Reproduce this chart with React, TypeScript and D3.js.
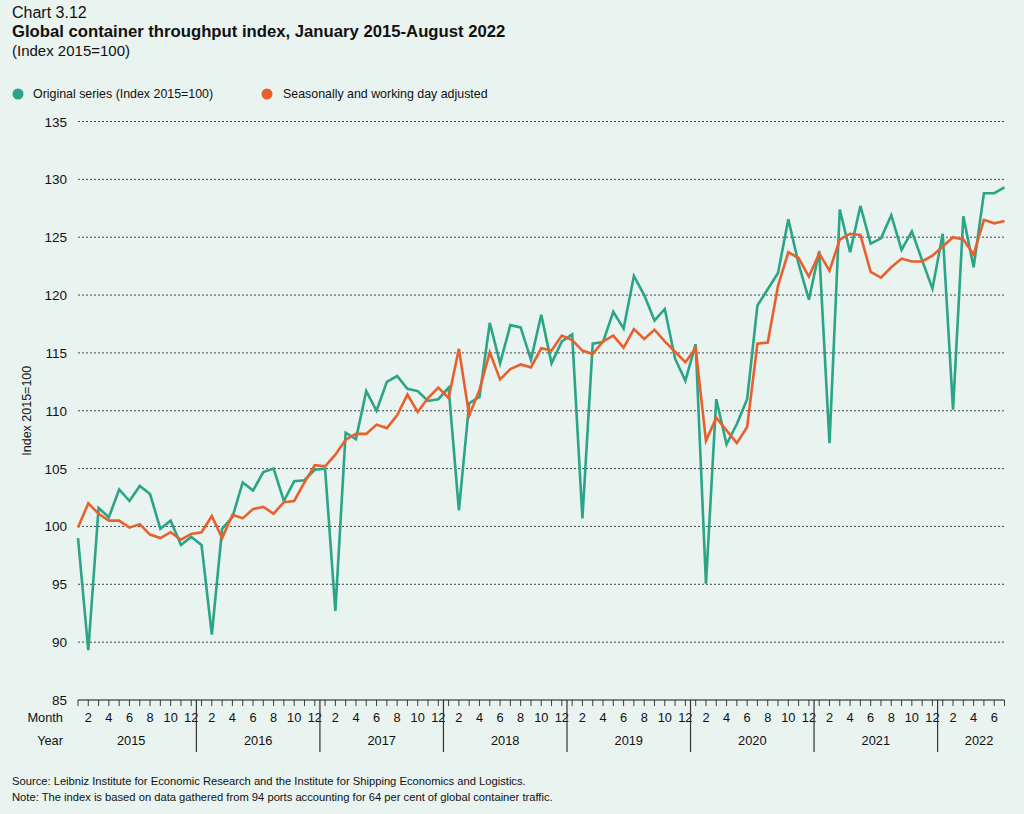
import React from "react";
import * as d3 from "d3";

const years = [2015, 2016, 2017, 2018, 2019, 2020, 2021, 2022];
const monthsPerYear = [12, 12, 12, 12, 12, 12, 12, 7];
const monthLabels = [2, 4, 6, 8, 10, 12];
const yTicks = [85, 90, 95, 100, 105, 110, 115, 120, 125, 130, 135];

const original = [
  99.0, 89.3, 101.6, 100.8, 103.2, 102.2, 103.5, 102.8, 99.8, 100.5, 98.4, 99.1,
  98.4, 90.65, 99.8, 100.8, 103.8, 103.1, 104.7, 105.0, 102.2, 103.9, 104.0, 104.9,
  105.0, 92.7, 108.1, 107.55, 111.7, 110.0, 112.5, 113.0, 111.9, 111.7, 110.85, 111.0,
  112.0, 101.4, 110.65, 111.2, 117.6, 114.1, 117.4, 117.2, 114.4, 118.3, 114.1, 116.0,
  116.6, 100.7, 115.8, 115.95, 118.55, 117.1, 121.65, 120.0, 117.8, 118.8, 114.5, 112.6,
  115.75, 95.05, 111.0, 107.1, 108.85, 111.0, 119.1, 120.5, 121.9, 126.55, 122.7, 119.6,
  123.8, 107.2, 127.4, 123.7, 127.7, 124.45, 124.9, 126.9, 123.9, 125.5, 123.0, 120.55,
  125.3, 110.1, 126.8, 122.4, 128.8, 128.8, 129.3,
];

const adjusted = [
  99.9, 102.0, 101.1, 100.5, 100.5, 99.9, 100.2, 99.3, 99.0, 99.5, 98.85, 99.35,
  99.5, 100.9, 99.0, 101.0, 100.7, 101.5, 101.7, 101.1, 102.1, 102.2, 103.8, 105.3,
  105.2, 106.2, 107.5, 108.0, 108.0, 108.8, 108.5, 109.6, 111.4, 109.9, 111.1, 112.0,
  111.1, 115.35, 109.6, 111.8, 115.05, 112.7, 113.6, 114.0, 113.75, 115.4, 115.2, 116.5,
  116.1, 115.2, 114.9, 116.0, 116.5, 115.45, 117.05, 116.2, 117.0, 116.0, 115.1, 114.2,
  115.4, 107.4, 109.4, 108.3, 107.2, 108.6, 115.8, 115.9, 120.8, 123.7, 123.2, 121.6,
  123.6, 122.1, 124.8, 125.3, 125.2, 122.0, 121.5, 122.4, 123.15, 122.9, 122.9, 123.4,
  124.2, 125.0, 124.8, 123.5, 126.5, 126.2, 126.4,
];

const GREEN = "#2ba487";
const ORANGE = "#e9602f";
const BG = "#e9f3ef";
const FONT = "'Liberation Sans', Arial, Helvetica, sans-serif";

export default function App() {
  const width = 1024;
  const height = 814;

  const categories: { year: number; month: number; idx: number }[] = [];
  years.forEach((yr, yi) => {
    for (let m = 1; m <= monthsPerYear[yi]; m++) {
      categories.push({ year: yr, month: m, idx: categories.length });
    }
  });
  const n = categories.length;

  const x = d3.scaleLinear().domain([0, n - 1]).range([78, 1004.5]);
  const y = d3.scaleLinear().domain([85, 135]).range([700, 121.5]);

  const line = d3
    .line<number>()
    .x((_, i) => x(i))
    .y((d) => y(d));

  const axisY = y(85);
  const x0 = x(0);
  const x1 = x(n - 1);

  const yearStarts: number[] = [];
  let acc = 0;
  monthsPerYear.forEach((c) => {
    yearStarts.push(acc);
    acc += c;
  });

  return (
    <svg
      width={width}
      height={height}
      style={{ display: "block", position: "absolute", left: 0, top: 0, background: BG }}
      fontFamily={FONT}
    >
      <rect x={0} y={0} width={width} height={height} fill={BG} />
      {/* Titles */}
      <text x={12} y={18} fontSize={16} fill="#111">Chart 3.12</text>
      <text x={12} y={37} fontSize={16.7} fontWeight="bold" fill="#111">
        Global container throughput index, January 2015-August 2022
      </text>
      <text x={12} y={56} fontSize={15} fill="#111">(Index 2015=100)</text>

      {/* Legend */}
      <circle cx={18} cy={94} r={5.5} fill={GREEN} />
      <text x={33} y={98} fontSize={12.4} fill="#111">Original series (Index 2015=100)</text>
      <circle cx={267} cy={94} r={5.5} fill={ORANGE} />
      <text x={283} y={98} fontSize={12.4} fill="#111">Seasonally and working day adjusted</text>

      {/* Grid lines and y labels */}
      {yTicks.map((t) => (
        <g key={t}>
          {t !== 85 && (
            <line
              x1={x0}
              x2={x1}
              y1={y(t)}
              y2={y(t)}
              stroke="#333"
              strokeWidth={0.9}
              strokeDasharray="2 2"
            />
          )}
          <text x={67} y={y(t) + 5} fontSize={13.5} textAnchor="end" fill="#111">
            {t}
          </text>
        </g>
      ))}

      {/* Y axis title */}
      <text
        transform={`translate(31,${(y(85) + y(135)) / 2}) rotate(-90)`}
        textAnchor="middle"
        fontSize={12.5}
        fill="#111"
      >
        Index 2015=100
      </text>

      {/* X axis */}
      <line x1={x0} x2={x1} y1={axisY} y2={axisY} stroke="#111" strokeWidth={1} />
      {categories.map((c) => (
        <line
          key={"t" + c.idx}
          x1={x(c.idx)}
          x2={x(c.idx)}
          y1={axisY}
          y2={axisY + 6}
          stroke="#111"
          strokeWidth={0.8}
        />
      ))}
      {categories
        .filter((c) => monthLabels.includes(c.month))
        .map((c) => (
          <text
            key={"m" + c.idx}
            x={x(c.idx)}
            y={722}
            fontSize={12.8}
            textAnchor="middle"
            fill="#111"
          >
            {c.month}
          </text>
        ))}
      <text x={63} y={722} fontSize={12.8} textAnchor="end" fill="#111">Month</text>
      <text x={63} y={745} fontSize={12.8} textAnchor="end" fill="#111">Year</text>
      {yearStarts.slice(1).map((s, i) => (
        <line
          key={"b" + i}
          x1={x(s - 0.5)}
          x2={x(s - 0.5)}
          y1={axisY}
          y2={752}
          stroke="#333"
          strokeWidth={1.2}
        />
      ))}
      {years.map((yr, i) => {
        const start = i === 0 ? x0 : x(yearStarts[i] - 0.5);
        const end =
          i === years.length - 1 ? x1 : x(yearStarts[i] + monthsPerYear[i] - 0.5);
        const cx =
          i === years.length - 1
            ? (start + end) / 2 + 8
            : i === 0
            ? (start + end) / 2 - 6
            : (start + end) / 2;
        return (
          <text key={"y" + yr} x={cx} y={745} fontSize={12.8} textAnchor="middle" fill="#111">
            {yr}
          </text>
        );
      })}

      {/* Series */}
      <path d={line(original) || ""} fill="none" stroke={GREEN} strokeWidth={2.6} strokeLinejoin="miter" />
      <path d={line(adjusted) || ""} fill="none" stroke={ORANGE} strokeWidth={2.6} strokeLinejoin="miter" />

      {/* Footer */}
      <text x={12} y={785} fontSize={11.2} fill="#111">
        Source: Leibniz Institute for Economic Research and the Institute for Shipping Economics and Logistics.
      </text>
      <text x={12} y={801} fontSize={11.2} fill="#111">
        Note: The index is based on data gathered from 94 ports accounting for 64 per cent of global container traffic.
      </text>
    </svg>
  );
}
